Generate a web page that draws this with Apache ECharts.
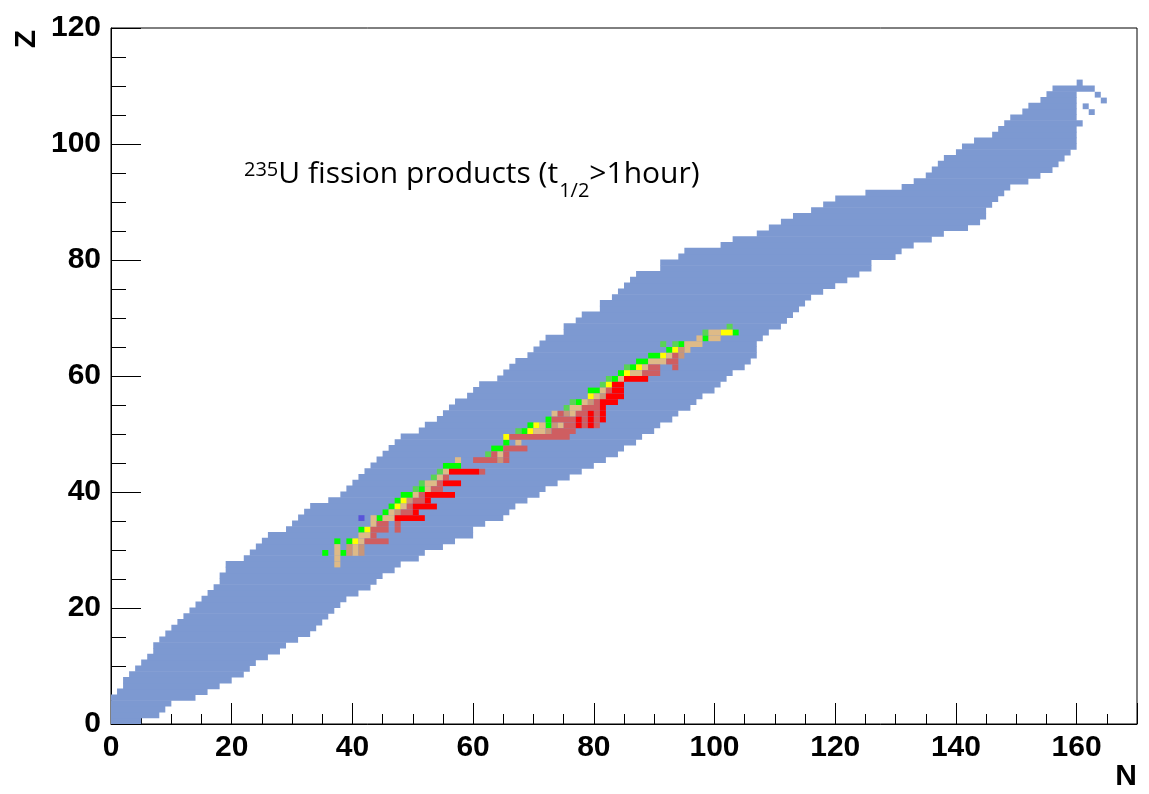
<!DOCTYPE html>
<html>
<head>
<meta charset="utf-8">
<script src="https://cdn.jsdelivr.net/npm/echarts@6/dist/echarts.min.js"></script>
<style>
  html, body { margin: 0; padding: 0; background: #fff; }
  #chart { width: 1149px; height: 794px; }
</style>
</head>
<body>
<div id="chart"></div>
<script>
// chart of nuclides: for each Z (index) the lightest and heaviest known N
const nMin = [0,0,0,0,0,1,2,2,3,4, 5,6,7,7,8,9,10,11,12,13, 14,15,16,17,18,18,19,19,22,23,
  24,25,26,29,30,31,32,33,36,38, 39,40,41,42,43,44,45,46,47,48, 51,52,54,55,56,57,59,60,61,64,
  65,66,67,69,70,71,72,75,75,77, 78,81,81,83,84,85,86,87,91,91, 94,95,101,103,107,109,111,113,116,118,
  120,125,131,133,135,136,137,138,140,141, 143,146,147,148,149,151,152,154,155,156, 160];
const nMax = [4,7,8,9,13,15,17,19,21,22, 23,25,27,28,30,32,33,34,35,36, 37,38,40,42,43,44,46,47,50,51,
  54,56,59,59,61,64,65,66,68,70, 71,73,75,77,79,81,83,84,86,87, 89,90,92,93,95,96,97,99,100,101,
  102,104,105,106,106,106,107,108,110,111, 112,113,114,115,117,119,121,123,125,125, 129,130,132,135,137,141,143,144,144,145,
  146,147,148,151,153,155,156,157,158,159, 159,159,159,160,159,159,159,159,159,162, 160];
// loose cells at the heavy end, [N, Z]
const bandExtra = [[163,108],[164,107],[161,106],[162,105]];

// 235U fission products, runs of cells [Z, firstN, lastN] per colour class
const greenRuns = [[29,35,35],[29,38,38],[31,37,37],[31,39,39],[33,41,41],[35,44,44],[36,45,45],[37,46,46],
  [38,47,47],[39,48,49],[40,51,51],[44,55,57],[47,63,64],[48,65,65],[50,68,68],[51,69,69],[51,72,72],[52,72,72],
  [55,77,77],[57,79,80],[59,83,83],[60,84,84],[61,86,86],[62,87,88],[63,89,90],[64,92,92],[65,94,94],[66,98,98],
  [67,103,103]];
const lightGreenRuns = [[40,50,50],[41,51,51],[42,53,53],[43,54,54],[46,62,62],[50,67,67],[54,75,75],[55,76,76],
  [58,81,81],[59,82,82],[61,85,85],[65,91,91],[65,93,93],[67,98,98],[68,102,102]];
const yellowRuns = [[31,40,40],[33,42,42],[37,47,47],[38,48,48],[49,65,65],[50,69,69],[51,70,70],[56,79,79],
  [58,82,82],[60,85,85],[61,87,87],[63,91,91],[64,93,93],[67,101,102]];
const tanRuns = [[27,37,37],[28,37,37],[29,37,37],[29,40,40],[30,37,37],[30,40,40],[31,41,41],[32,41,42],
  [34,43,43],[35,43,43],[35,45,46],[36,46,46],[37,48,48],[39,50,50],[40,52,52],[41,52,53],[42,54,54],[43,55,55],
  [45,57,57],[46,64,64],[48,67,67],[50,70,71],[51,71,71],[51,74,74],[53,73,73],[53,76,76],[54,76,77],[55,78,78],
  [56,80,80],[57,81,81],[59,84,84],[60,86,87],[61,88,88],[62,89,91],[63,92,92],[64,95,95],[65,95,97],[66,97,97],
  [66,99,100],[67,99,100]];
const brownRuns = [[29,39,39],[29,41,41],[30,39,39],[30,41,41],[36,47,47],[38,49,49],[45,64,64],[50,72,72],
  [51,73,73],[53,75,75],[55,79,79],[56,81,81],[63,94,94],[64,94,94]];
const indianRedRuns = [[31,42,45],[32,43,43],[33,43,45],[33,47,47],[34,44,45],[34,47,47],[36,48,49],[37,49,49],
  [38,50,51],[39,51,51],[40,53,54],[41,54,54],[42,55,55],[43,61,61],[45,60,63],[45,65,65],[46,63,63],[46,65,65],
  [47,65,68],[49,66,75],[50,73,76],[51,75,76],[51,78,78],[51,80,80],[52,73,76],[52,78,78],[52,80,80],[53,74,74],
  [53,77,78],[53,80,80],[54,78,80],[55,80,80],[57,82,82],[60,88,90],[61,89,90],[61,93,93],[62,92,93],[63,93,93]];
const redRuns = [[35,47,51],[36,50,50],[37,50,53],[38,52,52],[39,52,56],[41,55,57],[43,56,60],
  [51,77,77],[51,79,79],[52,77,77],[52,79,79],[52,81,81],[53,79,79],[53,81,81],[54,81,81],[55,81,83],
  [56,82,84],[57,83,84],[58,83,84],[59,85,88]];
const blueRuns = [[35,41,41]];

const xTicks = { min: 0, max: 170, step: 20 };
const yTicks = { min: 0, max: 120, step: 20 };

const bandRows = nMin.map((n, z) => [z, n, nMax[z]]);
const extraRuns = bandExtra.map(c => [c[1], c[0], c[0]]);

function runRenderer(color, overlap) {
  return function (params, api) {
    const z = api.value(0), n1 = api.value(1), n2 = api.value(2);
    const p1 = api.coord([n1, z + 1]);
    const p2 = api.coord([n2 + 1, z]);
    return {
      type: 'rect',
      shape: { x: p1[0], y: p1[1] - overlap, width: p2[0] - p1[0], height: p2[1] - p1[1] + overlap },
      style: { fill: color }
    };
  };
}

function runSeries(name, data, color, overlap) {
  return {
    name: name,
    type: 'custom',
    coordinateSystem: 'cartesian2d',
    renderItem: runRenderer(color, overlap || 0),
    encode: { x: [1, 2], y: 0 },
    data: data,
    silent: true,
    clip: true
  };
}

const chart = echarts.init(document.getElementById('chart'));
const axisFont = { fontFamily: 'Liberation Sans', fontWeight: 'bold', fontSize: 30, color: '#000' };

chart.setOption({
  animation: false,
  grid: {
    left: 111, top: 28, width: 1026, height: 696,
    show: true, borderColor: '#000', borderWidth: 1, backgroundColor: 'transparent'
  },
  xAxis: {
    type: 'value', min: xTicks.min, max: xTicks.max, interval: xTicks.step,
    name: 'N', nameLocation: 'end', nameGap: 0,
    nameTextStyle: Object.assign({ align: 'right', verticalAlign: 'top', padding: [38, 0, 0, 0] }, axisFont),
    axisLine: { show: true, onZero: false, lineStyle: { color: '#000', width: 1 } },
    axisTick: { show: true, inside: true, length: 21, lineStyle: { color: '#000', width: 1 } },
    minorTick: { show: true, splitNumber: 4, length: 10, lineStyle: { color: '#000', width: 1 } },
    splitLine: { show: false },
    axisLabel: Object.assign({ margin: 9, showMaxLabel: false }, axisFont)
  },
  yAxis: {
    type: 'value', min: yTicks.min, max: yTicks.max, interval: yTicks.step,
    axisLine: { show: true, onZero: false, lineStyle: { color: '#000', width: 1 } },
    axisTick: { show: true, inside: true, length: 30, lineStyle: { color: '#000', width: 1 } },
    minorTick: { show: true, splitNumber: 4, length: 15, lineStyle: { color: '#000', width: 1 } },
    splitLine: { show: false },
    axisLabel: Object.assign({ margin: 10 }, axisFont)
  },
  graphic: [
    {
      type: 'text', left: 12, top: 30, rotation: Math.PI / 2,
      style: { text: 'Z', font: 'bold 30px "Liberation Sans"', fill: '#000' }
    },
    {
      type: 'text', left: 244, top: 159,
      style: {
        text: '{sup|235}{m|U fission products (t}{sub|1/2}{m|>1hour)}',
        fill: '#000',
        rich: {
          sup: { fontFamily: 'Open Sans', fontSize: 20, verticalAlign: 'bottom', padding: [0, 0, 21, 0], fill: '#000' },
          m: { fontFamily: 'Open Sans', fontSize: 30, verticalAlign: 'bottom', padding: [0, 0, 12, 0], fill: '#000' },
          sub: { fontFamily: 'Open Sans', fontSize: 20, verticalAlign: 'bottom', padding: [0, 0, 0, 1], fill: '#000' }
        }
      }
    }
  ],
  series: [
    runSeries('known', bandRows, '#7d99d1', 0.6),
    runSeries('known extra', extraRuns, '#7d99d1'),
    runSeries('green', greenRuns, '#00ff00'),
    runSeries('light green', lightGreenRuns, '#59d454'),
    runSeries('yellow', yellowRuns, '#ffff00'),
    runSeries('tan', tanRuns, '#deba87'),
    runSeries('brown', brownRuns, '#c8967a'),
    runSeries('indian red', indianRedRuns, '#cf5e61'),
    runSeries('red', redRuns, '#ff0000'),
    runSeries('blue', blueRuns, '#5954d9')
  ]
});
</script>
</body>
</html>
